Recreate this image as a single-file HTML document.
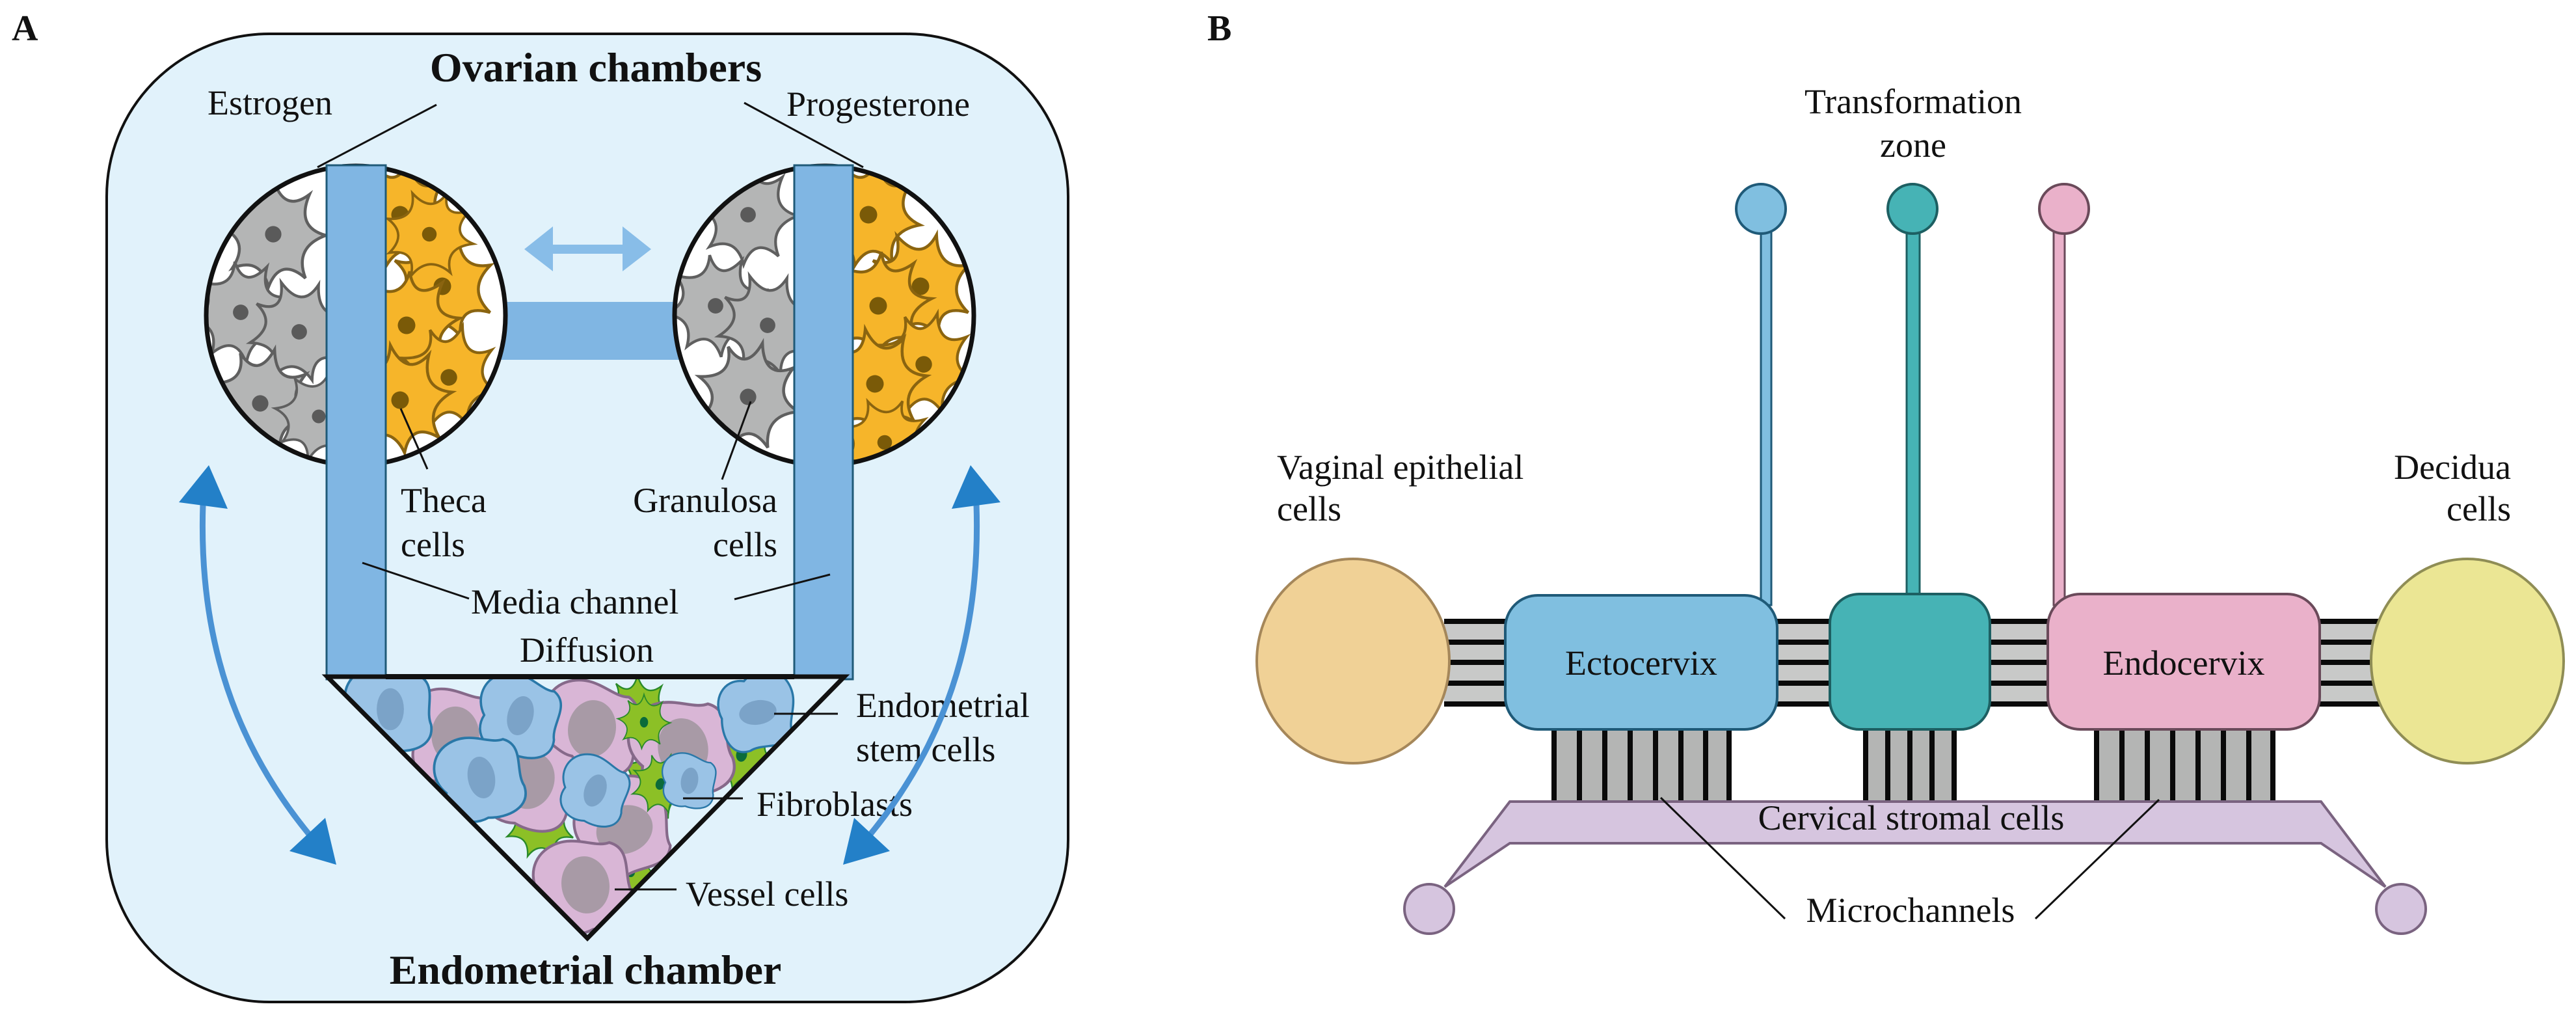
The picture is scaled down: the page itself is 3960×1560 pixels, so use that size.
<!DOCTYPE html>
<html><head><meta charset="utf-8"><style>
html,body{margin:0;padding:0;background:#fff;}
svg{display:block;}
text{font-family:"Liberation Serif",serif;fill:#111;}
</style></head><body>
<svg width="3960" height="1560" viewBox="0 0 3960 1560" xmlns="http://www.w3.org/2000/svg">
<defs>
<path id="star" d="M0,-95 Q18,-35 62,-68 Q38,-12 90,2 Q35,22 55,75 Q12,38 -8,90 Q-22,38 -70,58 Q-38,10 -90,-12 Q-32,-25 -55,-74 Q-15,-38 0,-95Z"/>
<path id="blob" d="M-50,-60 C-10,-82 20,-50 45,-55 C78,-40 55,0 66,25 C72,62 30,72 0,66 C-35,78 -72,52 -60,15 C-82,-10 -76,-45 -50,-60Z"/>
<g id="gcell"><use href="#star" fill="#b4b5b5" stroke="#5f5f5f" stroke-width="5"/><circle r="14" fill="#5a5a5a"/></g>
<g id="ocell"><use href="#star" fill="#f6b52a" stroke="#8a6410" stroke-width="5"/><circle r="15" fill="#7a5a08"/></g>
<g id="bcell"><use href="#blob" fill="#9ac3e6" stroke="#2a78a8" stroke-width="4"/><ellipse rx="22" ry="34" fill="#7ba3c8"/></g>
<g id="pcell"><use href="#blob" fill="#d9b6d6" stroke="#86698a" stroke-width="4"/><ellipse rx="35" ry="42" fill="#a89aa6"/></g>
<g id="fcell"><use href="#star" fill="#8cc026" stroke="#2a8a2a" stroke-width="4"/><ellipse rx="14" ry="18" fill="#0b6b3a"/></g>
<clipPath id="cl1"><circle cx="547" cy="485" r="230"/></clipPath>
<clipPath id="cl2"><circle cx="1267" cy="485" r="230"/></clipPath>
<clipPath id="tri"><polygon points="503,1040 1298,1040 903,1442"/></clipPath>
</defs>

<text x="18" y="62" font-size="56" font-weight="bold">A</text>
<text x="1856" y="62" font-size="56" font-weight="bold">B</text>
<rect x="164" y="52" width="1478" height="1488" rx="250" ry="250" fill="#e1f2fb" stroke="#111" stroke-width="4"/>

<text x="916" y="125" font-size="64" font-weight="bold" text-anchor="middle">Ovarian chambers</text>
<text x="319" y="176" font-size="54">Estrogen</text>
<text x="1209" y="178" font-size="54">Progesterone</text>
<line x1="671" y1="161" x2="488" y2="257" stroke="#111" stroke-width="3"/>
<line x1="1144" y1="158" x2="1327" y2="257" stroke="#111" stroke-width="3"/>

<rect x="770" y="464" width="274" height="89" fill="#80b6e3"/>

<circle cx="547" cy="485" r="230" fill="#fff"/>
<g clip-path="url(#cl1)">
   <use href="#gcell" transform="translate(420,360) scale(0.9)"/>
   <use href="#gcell" transform="translate(370,480) rotate(30) scale(0.85)"/>
   <use href="#gcell" transform="translate(460,510) rotate(-20) scale(0.85)"/>
   <use href="#gcell" transform="translate(400,620) rotate(15) scale(0.9)"/>
   <use href="#gcell" transform="translate(490,640) rotate(50) scale(0.75)"/>
  <use href="#ocell" transform="translate(615,330) rotate(10) scale(0.9)"/>
  <use href="#ocell" transform="translate(680,440) rotate(-25) scale(0.9)"/>
  <use href="#ocell" transform="translate(625,500) rotate(40) scale(0.9)"/>
  <use href="#ocell" transform="translate(690,580) rotate(15) scale(0.85)"/>
  <use href="#ocell" transform="translate(615,615) rotate(-10) scale(0.9)"/>
  <use href="#ocell" transform="translate(660,360) rotate(60) scale(0.75)"/>
</g>
<circle cx="547" cy="485" r="230" fill="none" stroke="#111" stroke-width="7"/>

<circle cx="1267" cy="485" r="230" fill="#fff"/>
<g clip-path="url(#cl2)">
  <use href="#gcell" transform="translate(1150,330) scale(0.85)"/>
  <use href="#gcell" transform="translate(1100,470) rotate(30) scale(0.85)"/>
  <use href="#gcell" transform="translate(1180,500) rotate(-20) scale(0.85)"/>
  <use href="#gcell" transform="translate(1150,610) rotate(15) scale(0.9)"/>
  <use href="#ocell" transform="translate(1335,330) rotate(10) scale(0.9)"/>
  <use href="#ocell" transform="translate(1415,440) rotate(-25) scale(0.9)"/>
  <use href="#ocell" transform="translate(1350,470) rotate(40) scale(0.9)"/>
  <use href="#ocell" transform="translate(1420,560) rotate(15) scale(0.85)"/>
  <use href="#ocell" transform="translate(1345,590) rotate(-10) scale(0.9)"/>
  <use href="#ocell" transform="translate(1360,680) rotate(60) scale(0.75)"/>
</g>
<circle cx="1267" cy="485" r="230" fill="none" stroke="#111" stroke-width="7"/>

<rect x="502" y="254" width="91" height="790" fill="#80b6e3" stroke="#1f5a78" stroke-width="3"/>
<rect x="1221" y="254" width="90" height="790" fill="#80b6e3" stroke="#1f5a78" stroke-width="3"/>

<polygon points="806,383 850,348 850,376 957,376 957,348 1001,383 957,417 957,390 850,390 850,417" fill="#88bde8"/>

<polygon points="503,1040 1298,1040 903,1442" fill="#e1f2fb"/>
<g clip-path="url(#tri)">
  <use href="#fcell" transform="translate(980,1095) scale(0.6)"/>
  <use href="#fcell" transform="translate(1010,1200) rotate(20) scale(0.65)"/>
  <use href="#fcell" transform="translate(830,1265) rotate(-30) scale(0.6)"/>
  <use href="#fcell" transform="translate(1140,1160) rotate(10) scale(0.6)"/>
  <use href="#fcell" transform="translate(680,1200) rotate(40) scale(0.45)"/>
  <use href="#fcell" transform="translate(970,1340) rotate(5) scale(0.45)"/>
  <use href="#pcell" transform="translate(700,1130) scale(1.05)"/>
  <use href="#pcell" transform="translate(910,1120) rotate(10) scale(1.05)"/>
  <use href="#pcell" transform="translate(1050,1150) rotate(-10) scale(1.1)"/>
  <use href="#pcell" transform="translate(815,1200) rotate(20) scale(1.05)"/>
  <use href="#pcell" transform="translate(960,1275) rotate(70) scale(1.05)"/>
  <use href="#pcell" transform="translate(900,1360) rotate(-10) scale(1.05)"/>
  <use href="#fcell" transform="translate(990,1110) scale(0.45)"/>
  <use href="#fcell" transform="translate(1015,1205) rotate(20) scale(0.5)"/>
  <use href="#bcell" transform="translate(600,1090) scale(0.95)"/>
  <use href="#bcell" transform="translate(800,1100) rotate(15) scale(0.9)"/>
  <use href="#bcell" transform="translate(740,1195) rotate(-10) scale(0.95)"/>
  <use href="#bcell" transform="translate(915,1215) rotate(20) scale(0.75)"/>
  <use href="#bcell" transform="translate(1165,1095) rotate(80) scale(0.85)"/>
  <use href="#bcell" transform="translate(1060,1200) rotate(10) scale(0.6)"/>
</g>
<polygon points="503,1040 1298,1040 903,1442" fill="none" stroke="#111" stroke-width="7"/>
<line x1="593" y1="1040" x2="1221" y2="1040" stroke="#111" stroke-width="8"/>

<text x="616" y="787" font-size="54">Theca</text>
<text x="616" y="855" font-size="54">cells</text>
<line x1="616" y1="628" x2="657" y2="721" stroke="#111" stroke-width="3"/>
<text x="1195" y="787" font-size="54" text-anchor="end">Granulosa</text>
<text x="1195" y="855" font-size="54" text-anchor="end">cells</text>
<line x1="1154" y1="617" x2="1110" y2="737" stroke="#111" stroke-width="3"/>
<text x="724" y="943" font-size="54">Media channel</text>
<line x1="557" y1="865" x2="721" y2="920" stroke="#111" stroke-width="3"/>
<line x1="1129" y1="921" x2="1276" y2="883" stroke="#111" stroke-width="3"/>
<text x="902" y="1017" font-size="54" text-anchor="middle">Diffusion</text>
<text x="1316" y="1102" font-size="54">Endometrial</text>
<text x="1316" y="1170" font-size="54">stem cells</text>
<line x1="1190" y1="1097" x2="1288" y2="1097" stroke="#111" stroke-width="3"/>
<text x="1163" y="1254" font-size="54">Fibroblasts</text>
<line x1="1050" y1="1227" x2="1142" y2="1227" stroke="#111" stroke-width="3"/>
<text x="1054" y="1392" font-size="54">Vessel cells</text>
<line x1="945" y1="1367" x2="1040" y2="1367" stroke="#111" stroke-width="3"/>
<text x="900" y="1512" font-size="64" font-weight="bold" text-anchor="middle">Endometrial chamber</text>

<g id="carrow">
  <path d="M312,775 C305,980 360,1150 490,1300" fill="none" stroke="#4a92d4" stroke-width="9"/>
  <polygon points="321,715 275,772 350,782" fill="#2380c8"/>
  <polygon points="517,1329 445,1308 500,1257" fill="#2380c8"/>
</g>
<use href="#carrow" transform="translate(1813,0) scale(-1,1)"/>

<text x="2941" y="174" font-size="54" text-anchor="middle">Transformation</text>
<text x="2941" y="241" font-size="54" text-anchor="middle">zone</text>

<rect x="2707" y="350" width="16" height="580" fill="#80bfe0" stroke="#1f5a78" stroke-width="3"/>
<rect x="2931" y="350" width="20" height="580" fill="#46b3b5" stroke="#1d5f62" stroke-width="3"/>
<rect x="3157" y="350" width="17" height="580" fill="#eab1ca" stroke="#6a4a5a" stroke-width="3"/>
<ellipse cx="2707" cy="321" rx="38" ry="38" fill="#80bfe0" stroke="#1f5a78" stroke-width="4"/>
<ellipse cx="2940" cy="321" rx="38" ry="38" fill="#46b3b5" stroke="#1d5f62" stroke-width="4"/>
<ellipse cx="3173" cy="321" rx="38" ry="38" fill="#eab1ca" stroke="#6a4a5a" stroke-width="4"/>

<text x="1963" y="736" font-size="54">Vaginal epithelial</text>
<text x="1963" y="800" font-size="54">cells</text>
<text x="3860" y="736" font-size="54" text-anchor="end">Decidua</text>
<text x="3860" y="800" font-size="54" text-anchor="end">cells</text>

<rect x="2220" y="951" width="1440" height="134" fill="#c8c9c8"/>
<g fill="#0a0a0a">
<rect x="2220" y="951" width="1440" height="8"/>
<rect x="2220" y="983" width="1440" height="8"/>
<rect x="2220" y="1014" width="1440" height="8"/>
<rect x="2220" y="1046" width="1440" height="8"/>
<rect x="2220" y="1078" width="1440" height="8"/>
</g>

<rect x="2387" y="1115" width="272" height="118" fill="#b4b5b4"/>
<rect x="2864" y="1115" width="143" height="118" fill="#b4b5b4"/>
<rect x="3221" y="1115" width="274" height="118" fill="#b4b5b4"/>
<g fill="#0a0a0a">
<rect x="2385" y="1115" width="8" height="118"/><rect x="2424" y="1115" width="8" height="118"/><rect x="2463" y="1115" width="8" height="118"/><rect x="2502" y="1115" width="8" height="118"/><rect x="2541" y="1115" width="8" height="118"/><rect x="2580" y="1115" width="8" height="118"/><rect x="2618" y="1115" width="8" height="118"/><rect x="2654" y="1115" width="8" height="118"/>
<rect x="2864" y="1115" width="8" height="118"/><rect x="2898" y="1115" width="8" height="118"/><rect x="2932" y="1115" width="8" height="118"/><rect x="2966" y="1115" width="8" height="118"/><rect x="3000" y="1115" width="8" height="118"/>
<rect x="3219" y="1115" width="8" height="118"/><rect x="3258" y="1115" width="8" height="118"/><rect x="3297" y="1115" width="8" height="118"/><rect x="3336" y="1115" width="8" height="118"/><rect x="3375" y="1115" width="8" height="118"/><rect x="3414" y="1115" width="8" height="118"/><rect x="3453" y="1115" width="8" height="118"/><rect x="3490" y="1115" width="8" height="118"/>
</g>

<ellipse cx="2080" cy="1016" rx="148" ry="157" fill="#f0d196" stroke="#a5875a" stroke-width="4"/>
<ellipse cx="3793" cy="1016" rx="148" ry="157" fill="#ebe694" stroke="#8f8d55" stroke-width="4"/>

<rect x="2314" y="915" width="418" height="206" rx="50" fill="#80bfe0" stroke="#1f5a78" stroke-width="4"/>
<rect x="2813" y="913" width="246" height="208" rx="45" fill="#46b3b5" stroke="#1d5f62" stroke-width="4"/>
<rect x="3148" y="913" width="418" height="208" rx="50" fill="#eab1ca" stroke="#6a4a5a" stroke-width="4"/>
<text x="2523" y="1037" font-size="54" text-anchor="middle">Ectocervix</text>
<text x="3357" y="1037" font-size="54" text-anchor="middle">Endocervix</text>

<polygon points="2321,1232 3568,1232 3667,1363 3568,1296 2321,1296 2221,1363" fill="#d6c5df" stroke="#7a6380" stroke-width="4"/>
<ellipse cx="2197" cy="1397" rx="38" ry="38" fill="#d6c5df" stroke="#7a6380" stroke-width="4"/>
<ellipse cx="3691" cy="1397" rx="38" ry="38" fill="#d6c5df" stroke="#7a6380" stroke-width="4"/>
<text x="2938" y="1275" font-size="54" text-anchor="middle">Cervical stromal cells</text>
<text x="2937" y="1417" font-size="54" text-anchor="middle">Microchannels</text>
<line x1="2553" y1="1226" x2="2744" y2="1412" stroke="#111" stroke-width="3"/>
<line x1="3319" y1="1229" x2="3129" y2="1412" stroke="#111" stroke-width="3"/>
</svg>
</body></html>
